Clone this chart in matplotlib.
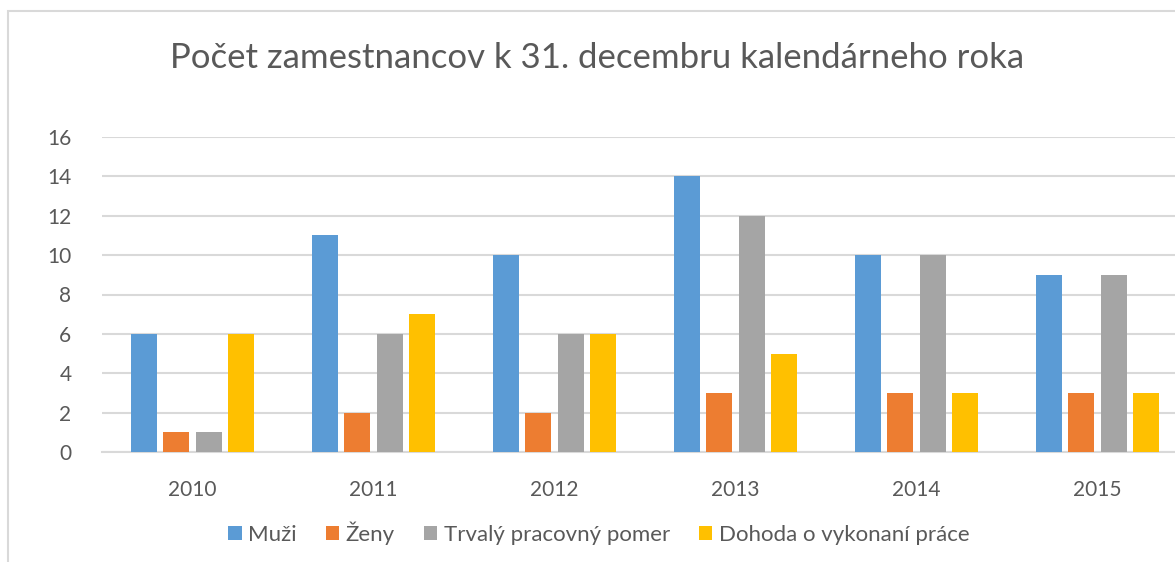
import numpy as np
import matplotlib.pyplot as plt
from matplotlib.patches import Rectangle

years = ['2010', '2011', '2012', '2013', '2014', '2015']
muzi = [6, 11, 10, 14, 10, 9]
zeny = [1, 2, 2, 3, 3, 3]
trvaly = [1, 6, 6, 12, 10, 9]
dohoda = [6, 7, 6, 5, 3, 3]

series = [('Muži', muzi, '#5b9bd5'),
          ('Ženy', zeny, '#ed7d31'),
          ('Trvalý pracovný pomer', trvaly, '#a5a5a5'),
          ('Dohoda o vykonaní práce', dohoda, '#ffc000')]

plt.rcParams['font.family'] = ['Lato', 'DejaVu Sans']
text_col = '#595959'
grid_col = '#d9d9d9'

fig = plt.figure(figsize=(11.75, 5.62), dpi=100)
fig.patches.append(Rectangle((8 / 1175, -0.1), 1.2, 1 - 11 / 562 + 0.1,
                             transform=fig.transFigure, fill=False,
                             edgecolor=grid_col, linewidth=1.5))

ax = fig.add_axes([102 / 1175, 110 / 562, 1086 / 1175, 315 / 562])
x = np.arange(len(years))
step = 0.18
width = 0.145
for i, (name, vals, col) in enumerate(series):
    ax.bar(x + (i - 1.5) * step, vals, width, color=col, label=name, zorder=3)

ax.set_xlim(-0.5, len(years) - 0.5)
ax.set_ylim(0, 16)
ax.set_yticks(range(0, 17, 2))
ax.set_xticks(x)
ax.set_xticklabels(years)
ax.grid(axis='y', color=grid_col, linewidth=1.5, zorder=0)
for s in ['top', 'right', 'left']:
    ax.spines[s].set_visible(False)
ax.spines['bottom'].set_color(grid_col)
ax.spines['bottom'].set_linewidth(1.5)
ax.tick_params(axis='both', length=0, labelsize=15, labelcolor=text_col)
ax.tick_params(axis='x', pad=20)
ax.tick_params(axis='y', pad=22)

fig.text(597 / 1175, 1 - 58 / 562, 'Počet zamestnancov k 31. decembru kalendárneho roka',
         ha='center', va='center', fontsize=25, color=text_col)

fig.legend(loc='center', bbox_to_anchor=(599 / 1175, 1 - 533 / 562), ncol=4,
           frameon=False, fontsize=16, labelcolor=text_col, handlelength=0.6,
           handleheight=0.6, handletextpad=0.3, columnspacing=1.3)

fig.savefig('out.png', dpi=100)
